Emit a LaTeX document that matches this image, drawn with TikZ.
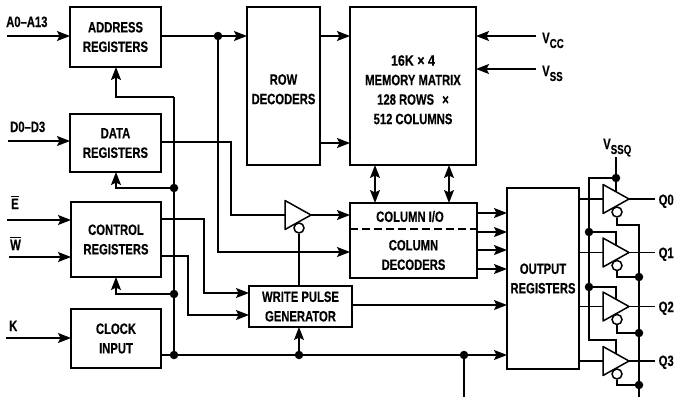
\documentclass[tikz,border=0pt]{standalone}
\usepackage{fontspec}
\setmainfont[FakeStretch=0.75,FakeBold=0.25]{Liberation Sans Bold}
\newfontfamily\widerface[FakeStretch=0.83,FakeBold=0.25]{Liberation Sans Bold}
\usetikzlibrary{arrows.meta,calc}
\newcommand{\subV}[1]{V\raisebox{-5pt}{\fontsize{13}{13}\selectfont #1}}
\newcommand{\barred}[1]{\leavevmode\vbox{\hrule height 1.3pt\kern 1.4pt\hbox{#1}}}
\newcommand{\tribuf}[3]{% name, left x, centre y
  \draw[wire,line join=round,fill=white] (#2,#3-14.5) -- (#2+26,#3) -- (#2,#3+14.5) -- cycle;
  \coordinate (#1-in) at (#2,#3);
  \coordinate (#1-out) at (#2+26,#3);
  \coordinate (#1-top) at (#2+13,#3-7);
  \node[bubble] (#1-b) at (#2+14,#3+13) {};
}
\tikzset{
  wire/.style={line width=1.5pt},
  arr/.style={wire,-{Stealth[length=13pt,width=10pt,inset=2.5pt]}},
  darr/.style={wire,{Stealth[length=13pt,width=10pt,inset=2.5pt]}-{Stealth[length=13pt,width=10pt,inset=2.5pt]}},
  blk/.style={draw,line width=1.8pt,inner sep=0pt,outer sep=0pt,align=center,
    font=\fontsize{15}{19.5}\selectfont},
  dot/.style={circle,fill=black,inner sep=0pt,minimum size=8.5pt},
  bubble/.style={circle,draw,line width=1.5pt,fill=white,inner sep=0pt,minimum size=10pt},
  lab/.style={anchor=base west,inner sep=0pt,font=\fontsize{15}{16}\selectfont},
}
\begin{document}
\begin{tikzpicture}[x=1pt,y=-1pt]
\useasboundingbox (0,0) rectangle (674,397);
% blocks
\node[blk,minimum width=91pt,minimum height=60pt] (addr) at (115.5,37) {ADDRESS\\REGISTERS};
\node[blk,minimum width=91pt,minimum height=58pt] (data) at (115.5,143) {DATA\\REGISTERS};
\node[blk,minimum width=90pt,minimum height=75pt] (ctrl) at (116,239.5) {CONTROL\\REGISTERS};
\node[blk,minimum width=90pt,minimum height=59pt] (clk) at (116,338.5) {CLOCK\\INPUT};
\node[blk,minimum width=73pt,minimum height=158pt] (row) at (283.5,86) {\rule{0pt}{17pt}ROW\\DECODERS};
\node[blk,minimum width=126pt,minimum height=158pt] (mem) at (413,86) {\widerface\rule{0pt}{18pt}16K × 4\\MEMORY MATRIX\\128 ROWS\hspace{5pt} ×\\512 COLUMNS};
\node[blk,minimum width=127pt,minimum height=75pt] (col) at (413.5,240.5) {COLUMN I/O\hspace*{7pt}\\[9pt]COLUMN\\DECODERS};
\node[blk,minimum width=103pt,minimum height=41pt] (wp) at (300.5,306.5) {WRITE PULSE\\GENERATOR};
\node[blk,minimum width=72pt,minimum height=181pt] (out) at (543,278.5) {OUTPUT\\REGISTERS};
\draw[line width=1.5pt,dash pattern=on 8pt off 4pt] (col.west |- 0,229) -- (col.east |- 0,229);
% free ends
\coordinate (ia) at (7,36); \coordinate (id) at (8,141);
\coordinate (ie) at (7,220); \coordinate (iw) at (9,257); \coordinate (ik) at (6,338);
\coordinate (vcc) at (536,36); \coordinate (vss) at (536,69);
\coordinate (ssq) at (616,157); \coordinate (oe) at (464,397); \coordinate (oe2) at (639,397);
% labels
\node[lab] at (6,27) {A0–A13};
\node[lab] at (10,132) {D0–D3};
\node[lab] at (11,209) {\barred{E}};
\node[lab] at (10,250) {\barred{W}};
\node[lab] at (9,331) {K};
\node[lab] at (542,43) {\subV{CC}};
\node[lab] at (542,76) {\subV{SS}};
\node[lab] at (603,149) {\subV{SSQ}};
\node[lab] at (658.5,205) {Q0};
\node[lab] at (658.5,258) {Q1};
\node[lab] at (658.5,312) {Q2};
\node[lab] at (658.5,366) {Q3};
% inputs
\draw[arr] (ia) -- (addr.west |- ia);
\draw[arr] (id) -- (data.west |- id);
\draw[arr] (ie) -- (ctrl.west |- ie);
\draw[arr] (iw) -- (ctrl.west |- iw);
\draw[arr] (ik) -- (clk.west |- ik);
\draw[arr] (vcc) -- (mem.east |- vcc);
\draw[arr] (vss) -- (mem.east |- vss);
% junctions
\node[dot] (ja) at (218,36) {};
\node[dot] (jd) at (174,188) {};
\node[dot] (jc) at (174,294) {};
\node[dot] (jk) at (174,355) {};
\node[dot] (jw) at (299,355) {};
\node[dot] (jo) at (464,355) {};
% address bus
\draw[wire] (addr.east |- ja) -- (ja);
\draw[arr] (ja) -- (row.west |- ja);
\draw[arr] (ja) |- (col.west |- 0,252);
\draw[arr] (row.east |- 0,36) -- (mem.west |- 0,36);
\draw[arr] (row.east |- 0,143) -- (mem.west |- 0,143);
% clock
\draw[wire] (clk.east |- jk) -- (jk);
\draw[wire] (jk) -- (jw) -- (jo);
\draw[arr] (jo) -- (out.west |- jo);
\draw[wire] (jo) -- (oe);
\draw[arr] (jw) -- (jw |- wp.south);
\draw[wire] (jk) -- (jc) -- (jd) -- (174,97);
\draw[arr] (174,97) -| (addr.south -| 116,0);
\draw[arr] (jd) -| (data.south -| 116,0);
\draw[arr] (jc) -| (ctrl.south -| 116,0);
% control to write pulse
\draw[arr] (ctrl.east |- 0,219) -| (204,293) -- (wp.west |- 0,293);
\draw[arr] (ctrl.east |- 0,256) -| (188,315) -- (wp.west |- 0,315);
\draw[arr] (wp.east |- 0,305) -- (out.west |- 0,305);
% column
\draw[darr] (375,165) -- (375,203);
\draw[darr] (449,165) -- (449,203);
\draw[arr] (col.east |- 0,213) -- (out.west |- 0,213);
\draw[arr] (col.east |- 0,232) -- (out.west |- 0,232);
\draw[arr] (col.east |- 0,250) -- (out.west |- 0,250);
\draw[arr] (col.east |- 0,269) -- (out.west |- 0,269);
% write buffer
\tribuf{wb}{285}{215}
\draw[wire] (data.east |- 0,142) -| (231,215) -- (wb-in);
\draw[arr] (wb-out) -- (col.west |- wb-out);
\draw[wire] (wp.north -| wb-b) -- (wb-b);
% output buffers
\tribuf{b0}{603}{199}
\tribuf{b1}{603}{252.5}
\tribuf{b2}{603}{306.5}
\tribuf{b3}{603}{361}
\foreach \n in {0,1,2,3}{
  \draw[wire] (out.east |- b\n-in) -- (b\n-in);
  \draw[wire] (b\n-out) -- ($(b\n-out)+(26,0)$);
}
\node[dot] (s0) at (616,178) {};
\node[dot] (s1) at (589,232) {};
\node[dot] (s2) at (589,287) {};
\draw[wire] (ssq) -- (s0) -- (b0-top);
\draw[wire] (s0) -| (s1) -- (s2) -- (589,340) -| (b3-top);
\draw[wire] (s1) -| (b1-top);
\draw[wire] (s2) -| (b2-top);
\node[dot] (e1) at (639,277) {};
\node[dot] (e2) at (639,333) {};
\node[dot] (e3) at (639,385) {};
\draw[wire] (b0-b) |- (639,225) -- (e1) -- (e2) -- (e3) -- (oe2);
\draw[wire] (b1-b) |- (e1);
\draw[wire] (b2-b) |- (e2);
\draw[wire] (b3-b) |- (e3);
\end{tikzpicture}
\end{document}
